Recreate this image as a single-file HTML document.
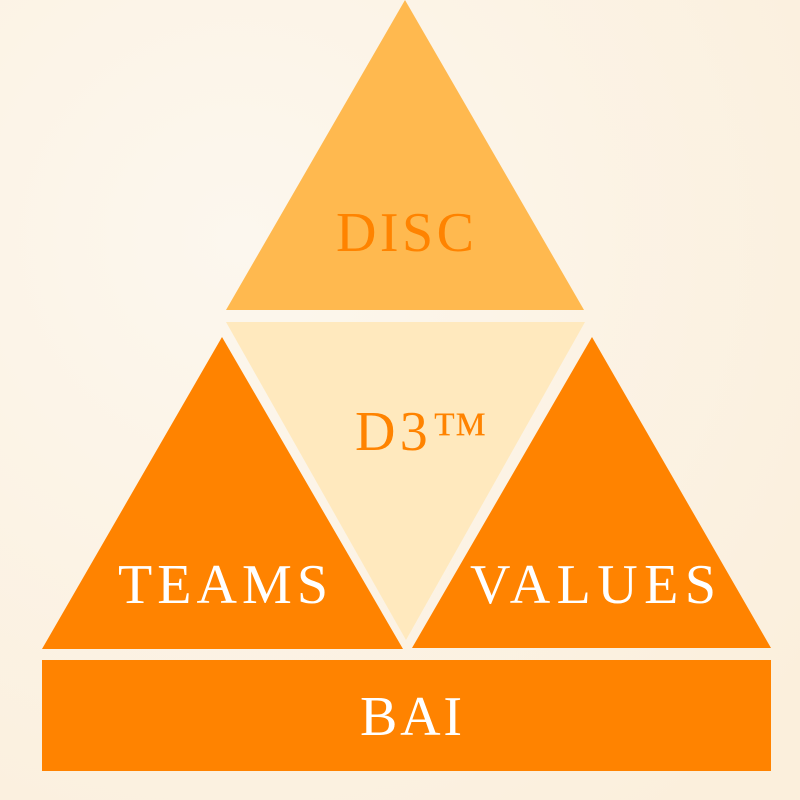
<!DOCTYPE html>
<html><head><style>
body{margin:0;width:800px;height:800px;overflow:hidden;background:#fdf6ea}
svg{display:block}
text{font-family:"Liberation Serif",serif;text-anchor:middle}
</style></head><body>
<svg width="800" height="800" viewBox="0 0 800 800">
<defs><radialGradient id="bg" cx="0.3" cy="0.3" r="0.9"><stop offset="0" stop-color="#fcf7ee"/><stop offset="1" stop-color="#fbefdc"/></radialGradient></defs>
<rect width="800" height="800" fill="url(#bg)"/>
<polygon points="405,0 584,310 226,310" fill="#ffb94f"/>
<polygon points="226,322 585,322 406,640" fill="#ffe9be"/>
<polygon points="222,337 403,649 42,649" fill="#ff8300"/>
<polygon points="592,337 771,648 412,648" fill="#ff8300"/>
<rect x="42" y="660" width="729" height="111" fill="#ff8300"/>
<text x="405" y="251" font-size="56" fill="#ff8300" textLength="138" lengthAdjust="spacing">DISC</text>
<text x="421" y="450" font-size="56" fill="#ff8300" textLength="132" lengthAdjust="spacing">D3™</text>
<text x="223" y="603" font-size="56" fill="#fff" textLength="210" lengthAdjust="spacing">TEAMS</text>
<text x="593" y="603" font-size="56" fill="#fff" textLength="246" lengthAdjust="spacing">VALUES</text>
<text x="411" y="735" font-size="56" fill="#fff" textLength="102" lengthAdjust="spacing">BAI</text>
</svg>
</body></html>
